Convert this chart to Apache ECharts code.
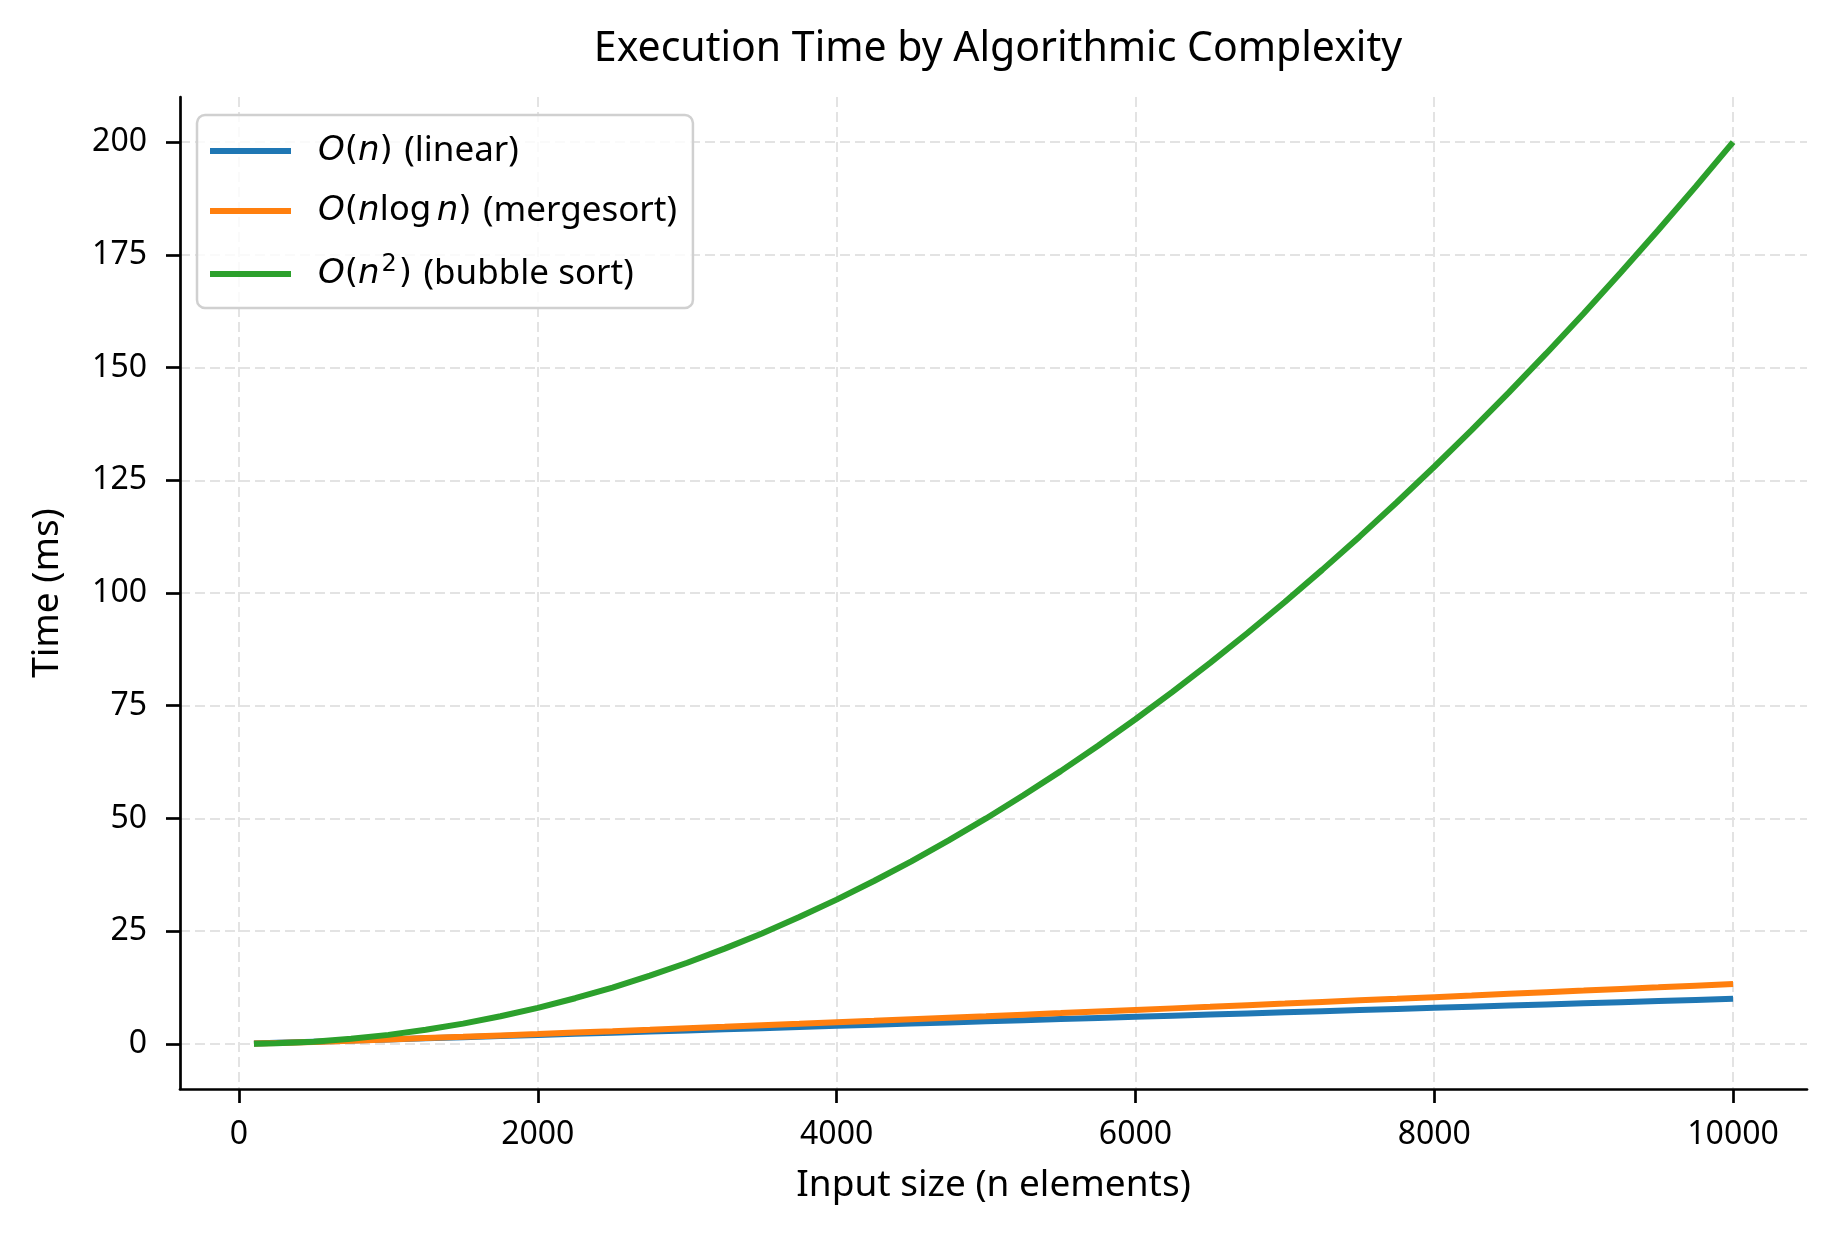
<!DOCTYPE html>
<html>
<head>
<meta charset="utf-8">
<script src="https://cdn.jsdelivr.net/npm/echarts@6/dist/echarts.min.js"></script>
<style>
html,body{margin:0;padding:0;background:#fff;}
#chart{width:1834px;height:1234px;}
</style>
</head>
<body>
<div id="chart"></div>
<script>
// Input sizes (x values)
const inputSizes = [100, 250, 500, 750, 1000, 1250, 1500, 1750, 2000, 2250, 2500, 2750, 3000, 3250, 3500, 3750, 4000, 4250, 4500, 4750, 5000, 5250, 5500, 5750, 6000, 6250, 6500, 6750, 7000, 7250, 7500, 7750, 8000, 8250, 8500, 8750, 9000, 9250, 9500, 9750, 10000];
// O(n) linear (ms)
const linearTimes = [0.1, 0.25, 0.5, 0.75, 1.0, 1.25, 1.5, 1.75, 2.0, 2.25, 2.5, 2.75, 3.0, 3.25, 3.5, 3.75, 4.0, 4.25, 4.5, 4.75, 5.0, 5.25, 5.5, 5.75, 6.0, 6.25, 6.5, 6.75, 7.0, 7.25, 7.5, 7.75, 8.0, 8.25, 8.5, 8.75, 9.0, 9.25, 9.5, 9.75, 10.0];
// O(n log n) mergesort (ms)
const mergesortTimes = [0.07, 0.2, 0.45, 0.72, 1.0, 1.29, 1.58, 1.89, 2.19, 2.51, 2.82, 3.14, 3.47, 3.79, 4.12, 4.45, 4.79, 5.12, 5.46, 5.8, 6.14, 6.49, 6.83, 7.18, 7.53, 7.88, 8.23, 8.59, 8.94, 9.3, 9.66, 10.01, 10.37, 10.73, 11.1, 11.46, 11.82, 12.19, 12.55, 12.92, 13.29];
// O(n^2) bubble sort (ms)
const bubbleTimes = [0.02, 0.13, 0.5, 1.13, 2.0, 3.13, 4.5, 6.13, 8.0, 10.13, 12.5, 15.13, 18.0, 21.13, 24.5, 28.13, 32.0, 36.13, 40.5, 45.13, 50.0, 55.13, 60.5, 66.13, 72.0, 78.13, 84.5, 91.13, 98.0, 105.13, 112.5, 120.13, 128.0, 136.13, 144.5, 153.13, 162.0, 171.13, 180.5, 190.13, 200.0];
// Tick labels
const xTicks = [0, 2000, 4000, 6000, 8000, 10000];
const yTicks = [0, 25, 50, 75, 100, 125, 150, 175, 200];
const seriesNames = ['O(n) (linear)', 'O(n log n) (mergesort)', 'O(n^2) (bubble sort)'];
const legendRich = {
  'O(n) (linear)': '{mo|O}{m|(}{mi|n}{m|)}{sp| }(linear)',
  'O(n log n) (mergesort)': '{mo|O}{m|(}{mi|n}{m|log}{th| }{mi|n}{m|)}{sp| }(mergesort)',
  'O(n^2) (bubble sort)': '{mo|O}{m|(}{mi|n}{sup|2}{m|)}{sp| }(bubble sort)'
};
const colors = ['#1f77b4', '#ff7f0e', '#2ca02c'];

function pairs(ys) { return inputSizes.map((x, i) => [x, ys[i]]); }

const chart = echarts.init(document.getElementById('chart'), null, {renderer: 'canvas'});
const axisText = {color: '#000', fontFamily: 'Noto Sans', fontSize: 32};
const gridLine = {show: true, lineStyle: {color: '#e3e3e3', width: 2, type: [10, 5]}};

chart.setOption({
  animation: false,
  backgroundColor: '#fff',
  title: {
    text: 'Execution Time by Algorithmic Complexity',
    left: 993, textAlign: 'center', top: 24,
    textStyle: {fontFamily: 'Noto Sans', fontSize: 41, fontWeight: 'normal', color: '#000'}
  },
  grid: {left: 180, right: 27, top: 97, bottom: 145, containLabel: false},
  legend: {
    orient: 'vertical', left: 197, top: 115,
    padding: [18, 16, 16, 13],
    itemGap: 24, itemWidth: 81, itemHeight: 6, icon: 'rect',
    backgroundColor: 'rgba(255,255,255,0.8)',
    borderColor: '#d0d0d0', borderWidth: 2.5, borderRadius: 8,
    data: seriesNames,
    formatter: name => legendRich[name],
    textStyle: {
      fontFamily: 'Noto Sans', fontSize: 35, color: '#000',
      rich: {
        mo: {fontFamily: 'DejaVu Sans', fontStyle: 'italic', fontSize: 34, padding: [0, 0, 0, 22]},
        mi: {fontFamily: 'DejaVu Sans', fontStyle: 'italic', fontSize: 34},
        m: {fontFamily: 'DejaVu Sans', fontSize: 34},
        th: {fontFamily: 'DejaVu Sans', fontSize: 17},
        sp: {fontFamily: 'DejaVu Sans', fontSize: 36},
        sup: {fontFamily: 'DejaVu Sans', fontSize: 24, padding: [0, 2, 18, 2]}
      }
    }
  },
  xAxis: {
    type: 'value', min: -395, max: 10495,
    name: 'Input size (n elements)', nameLocation: 'middle', nameGap: 78,
    nameTextStyle: {fontFamily: 'Noto Sans', fontSize: 37, color: '#000'},
    axisLine: {show: true, onZero: false, lineStyle: {color: '#000', width: 2.7}},
    axisTick: {show: true, length: 14, lineStyle: {color: '#000', width: 2.7}, customValues: xTicks},
    axisLabel: Object.assign({margin: 30, customValues: xTicks, formatter: v => String(v)}, axisText),
    splitLine: gridLine
  },
  yAxis: {
    type: 'value', min: -10, max: 210,
    name: 'Time (ms)', nameLocation: 'middle', nameGap: 114, nameRotate: 90,
    nameTextStyle: {fontFamily: 'Noto Sans', fontSize: 37, color: '#000'},
    axisLine: {show: true, onZero: false, lineStyle: {color: '#000', width: 2.7}},
    axisTick: {show: true, length: 14, lineStyle: {color: '#000', width: 2.7}, customValues: yTicks},
    axisLabel: Object.assign({margin: 33, customValues: yTicks, formatter: v => String(v)}, axisText),
    splitLine: gridLine
  },
  series: [
    {name: seriesNames[0], type: 'line', data: pairs(linearTimes), showSymbol: false, symbol: 'none',
     lineStyle: {color: colors[0], width: 6}, itemStyle: {color: colors[0]}},
    {name: seriesNames[1], type: 'line', data: pairs(mergesortTimes), showSymbol: false, symbol: 'none',
     lineStyle: {color: colors[1], width: 6}, itemStyle: {color: colors[1]}},
    {name: seriesNames[2], type: 'line', data: pairs(bubbleTimes), showSymbol: false, symbol: 'none',
     lineStyle: {color: colors[2], width: 6}, itemStyle: {color: colors[2]}}
  ]
});
</script>
</body>
</html>
